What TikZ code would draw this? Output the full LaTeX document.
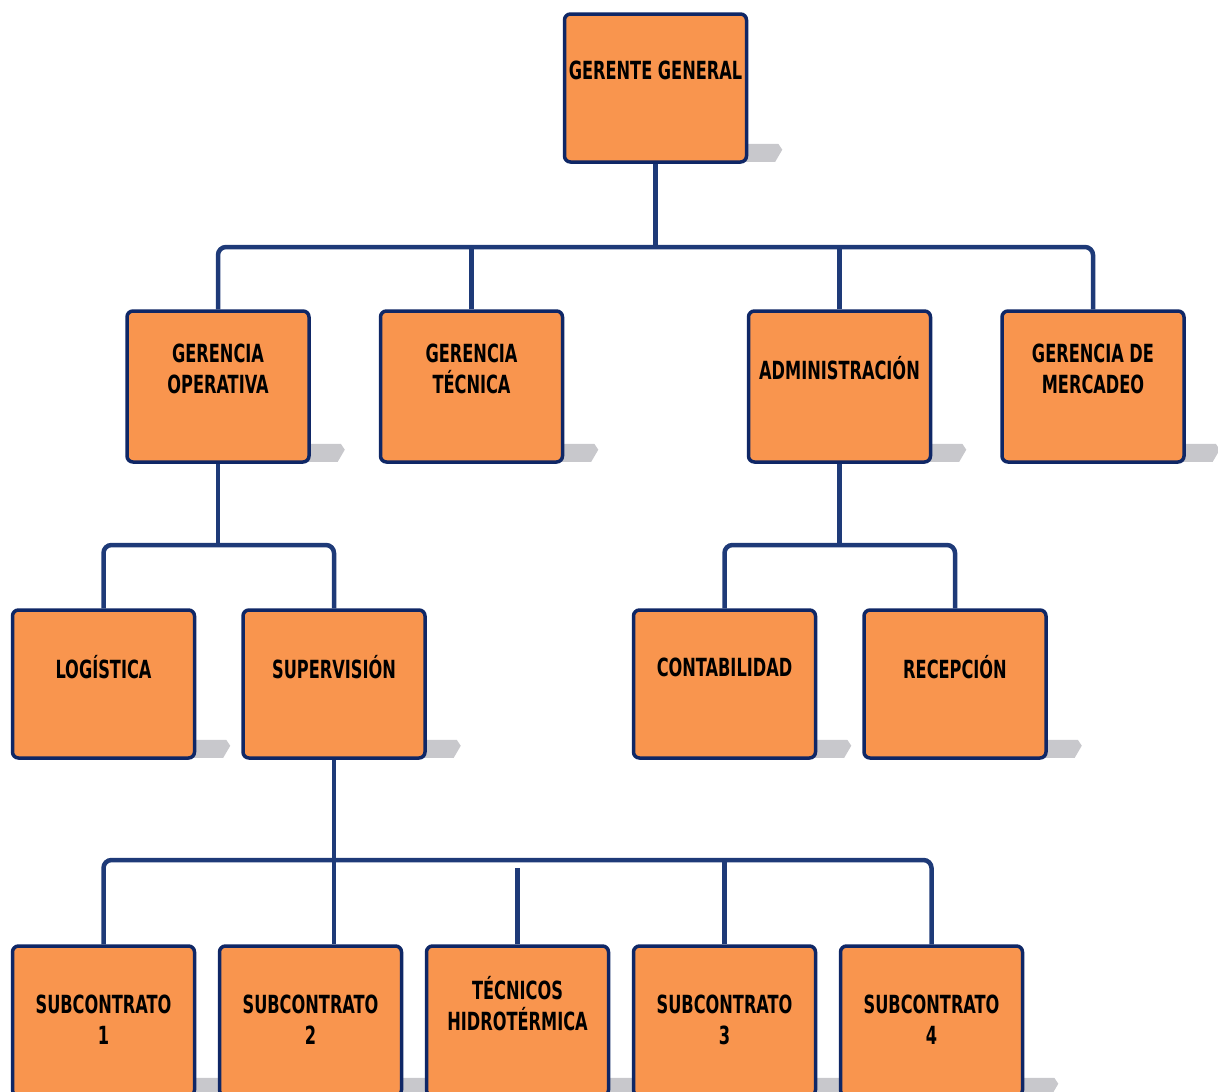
\documentclass[tikz,border=0pt]{standalone}
\usepackage{fontspec}
\newfontfamily\boxfont{DejaVu Sans Condensed}[FakeStretch=0.72]
\usetikzlibrary{backgrounds}
\definecolor{boxfill}{HTML}{F9954E}
\definecolor{boxline}{HTML}{0F2766}
\definecolor{connline}{HTML}{1E3A78}
\definecolor{shadowc}{HTML}{C8C8CC}
\begin{document}
\begin{tikzpicture}[x=1pt,y=-1pt,
  box/.style={draw=boxline, line width=3.5pt, fill=boxfill, rounded corners=6pt,
    minimum width=182pt, minimum height=148pt, inner sep=0pt},
  lbl/.style={font=\boxfont\bfseries\fontsize{25}{31}\selectfont, align=center, text=black},
  conn/.style={draw=connline, line width=4.5pt, rounded corners=8pt},
  shad/.style={fill=shadowc}]
\useasboundingbox (0,0) rectangle (1218,1092);
% row 1
\node[box, label={[lbl, yshift=18pt]center:GERENTE GENERAL}] (gg) at (655.5,88) {};
% row 2
\node[box, minimum height=151pt, label={[lbl, yshift=18pt]center:GERENCIA\\OPERATIVA}] (go) at (218,386.5) {};
\node[box, minimum height=151pt, label={[lbl, yshift=18pt]center:GERENCIA\\TÉCNICA}] (gt) at (471.5,386.5) {};
\node[box, minimum height=151pt, label={[lbl, yshift=18pt]center:ADMINISTRACIÓN}] (ad) at (839.5,386.5) {};
\node[box, minimum height=151pt, label={[lbl, yshift=18pt]center:GERENCIA DE\\MERCADEO}] (gm) at (1093,386.5) {};
% row 3
\node[box, label={[lbl, yshift=17pt]center:LOGÍSTICA}] (lo) at (103.5,684) {};
\node[box, label={[lbl, yshift=17pt]center:SUPERVISIÓN}] (su) at (334,684) {};
\node[box, label={[lbl, yshift=17pt]center:CONTABILIDAD}] (co) at (724.5,684) {};
\node[box, label={[lbl, yshift=17pt]center:RECEPCIÓN}] (re) at (955,684) {};
% row 4
\node[box, minimum height=150pt, label={[lbl, yshift=1pt]center:SUBCONTRATO\\1}] (sa) at (103.5,1021) {};
\node[box, minimum height=150pt, label={[lbl, yshift=1pt]center:SUBCONTRATO\\2}] (sb) at (310.5,1021) {};
\node[box, minimum height=150pt, label={[lbl, yshift=17pt]center:TÉCNICOS\\HIDROTÉRMICA}] (te) at (517.5,1021) {};
\node[box, minimum height=150pt, label={[lbl, yshift=1pt]center:SUBCONTRATO\\3}] (sc) at (724.5,1021) {};
\node[box, minimum height=150pt, label={[lbl, yshift=1pt]center:SUBCONTRATO\\4}] (sd) at (931.5,1021) {};
% shadows
\begin{scope}[on background layer]
\foreach \n in {gg,go,gt,ad,gm,lo,su,co,re,sa,sb,te,sc,sd}{
  \fill[shad, shift={(\n.south east)}] (-4,-20) -- (30,-20) -- (34,-14) -- (27,-2) -- (-4,-2) -- cycle;
}
\end{scope}
% connectors
\coordinate (b1) at (655.5,247);
\coordinate (b2) at (218,545);
\coordinate (b3) at (839.5,545);
\coordinate (b4) at (334,860);
\coordinate (t0) at (517.5,868);
\begin{scope}[on background layer]
\draw[conn] (gg.south) -- (b1);
\draw[conn] (go.north) |- (b1) -| (gm.north);
\draw[conn] (gt.north) -- (gt.north |- b1);
\draw[conn] (ad.north) -- (ad.north |- b1);
\draw[conn] (go.south) -- (b2);
\draw[conn] (lo.north) |- (b2) -| (su.north);
\draw[conn] (ad.south) -- (b3);
\draw[conn] (co.north) |- (b3) -| (re.north);
\draw[conn] (su.south) -- (su.south |- sb.north);
\draw[conn] (sa.north) |- (b4) -| (sd.north);
\draw[conn] (sc.north) -- (sc.north |- b4);
\draw[conn] (te.north) -- (t0);
\end{scope}
\end{tikzpicture}
\end{document}
